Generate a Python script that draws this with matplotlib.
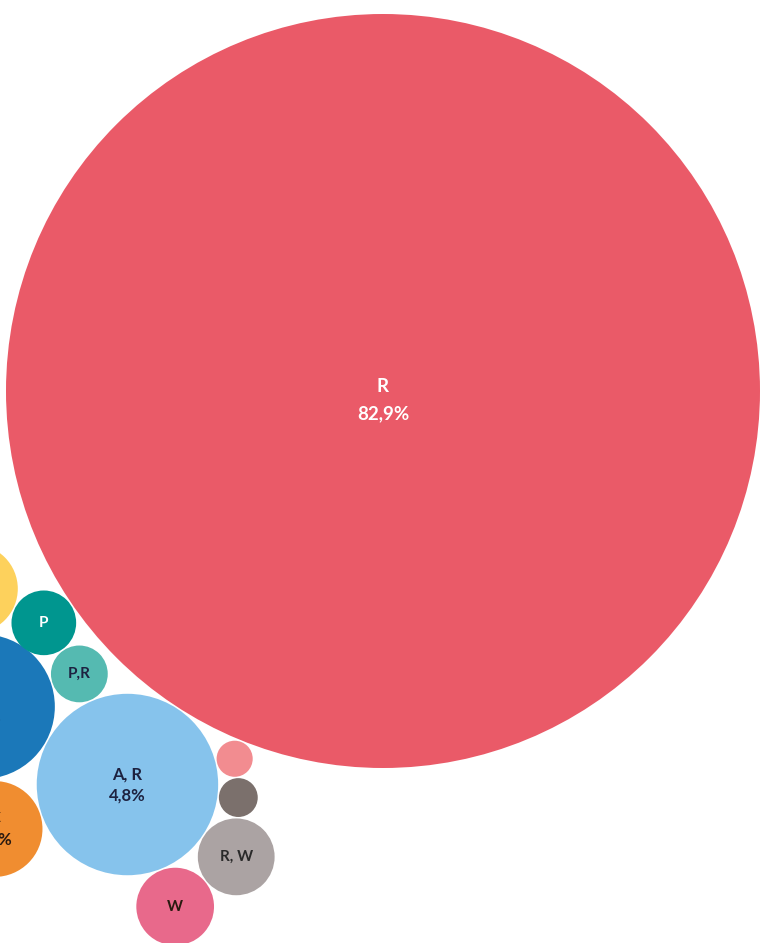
import math
import matplotlib
matplotlib.use("Agg")
import matplotlib.pyplot as plt
from matplotlib.patches import Circle

plt.rcParams['font.family'] = ['Lato', 'DejaVu Sans']

# data: share of each group (percent)
names = ["R", "A, R", "A", "C", "A, C", "P", "P, R", "W", "R, W", "R, P", "R, C"]
shares = [82.9, 4.8, 3.05, 1.34, 1.15, 0.61, 0.47, 0.88, 0.86, 0.19, 0.22]
show_pct = [True, True, True, True, False, False, False, False, False, False, False]
show_name = [True, True, True, True, False, True, True, True, True, False, False]

colors = ["#EA5A68", "#86C3EC", "#1B78B9", "#F08D30", "#FDD15C", "#00968F",
          "#55BAB1", "#E8698B", "#ABA3A3", "#F28C90", "#7B706C"]
text_colors = ["white", "#1d2240", "#1d2240", "#2a1a10", "#2a1a10", "white",
               "#1d2240", "#2a1a10", "#2a2a2a", "#2a2a2a", "#2a2a2a"]

W, H = 761, 943
scale = 377 / math.sqrt(82.9)   # px radius per sqrt(percent)
pad = 1.5
radii = [scale * math.sqrt(s) for s in shares]


def tangent(i, j, r, side):
    (x1, y1), r1 = centers[i], radii[i]
    (x2, y2), r2 = centers[j], radii[j]
    a = r1 + r + pad
    b = r2 + r + pad
    dx, dy = x2 - x1, y2 - y1
    d = math.hypot(dx, dy)
    t = (a * a - b * b + d * d) / (2 * d)
    h = math.sqrt(max(a * a - t * t, 0))
    ux, uy = dx / d, dy / d
    px, py = x1 + ux * t, y1 + uy * t
    return (px - side * uy * h, py + side * ux * h)


def around(i, r, ang, gap=pad):
    x, y = centers[i]
    d = radii[i] + r + gap
    return (x + d * math.cos(math.radians(ang)), y + d * math.sin(math.radians(ang)))


centers = {}
centers[0] = (383, 391)
centers[1] = around(0, radii[1], 123)
centers[6] = around(1, radii[6], 246.5)
centers[5] = tangent(0, 6, radii[5], 1)
centers[2] = tangent(6, 1, radii[2], 1)
centers[4] = tangent(5, 2, radii[4], 1)
centers[3] = around(1, radii[3], 161.5)
centers[9] = tangent(0, 1, radii[9], -1)
centers[10] = tangent(1, 9, radii[10], 1)
centers[8] = tangent(1, 10, radii[8], 1)
centers[7] = tangent(1, 8, radii[7], 1)

fig = plt.figure(figsize=(W / 100, H / 100), dpi=100)
ax = fig.add_axes([0, 0, 1, 1])
ax.set_xlim(0, W)
ax.set_ylim(H, 0)
ax.set_aspect('equal')
ax.axis('off')

for i in range(len(names)):
    cx, cy = centers[i]
    ax.add_patch(Circle((cx, cy), radii[i], color=colors[i], lw=0))
    if not show_name[i]:
        continue
    big = i == 0
    fs = 13.5 if big else 12
    gap = 14 if big else 10.5
    off = 9 if big else 0
    if show_pct[i]:
        pct = f"{shares[i]:.1f}".replace(".", ",") + "%"
        ax.text(cx, cy + off - gap, names[i], ha='center', va='center',
                fontsize=fs, color=text_colors[i], fontweight='bold')
        ax.text(cx, cy + off + gap, pct, ha='center', va='center',
                fontsize=fs, color=text_colors[i], fontweight='bold')
    else:
        label = names[i].replace(", ", ",") if names[i] == "P, R" else names[i]
        ax.text(cx, cy, label, ha='center', va='center', fontsize=11,
                color=text_colors[i], fontweight='bold')

fig.savefig("out.png", dpi=100)
